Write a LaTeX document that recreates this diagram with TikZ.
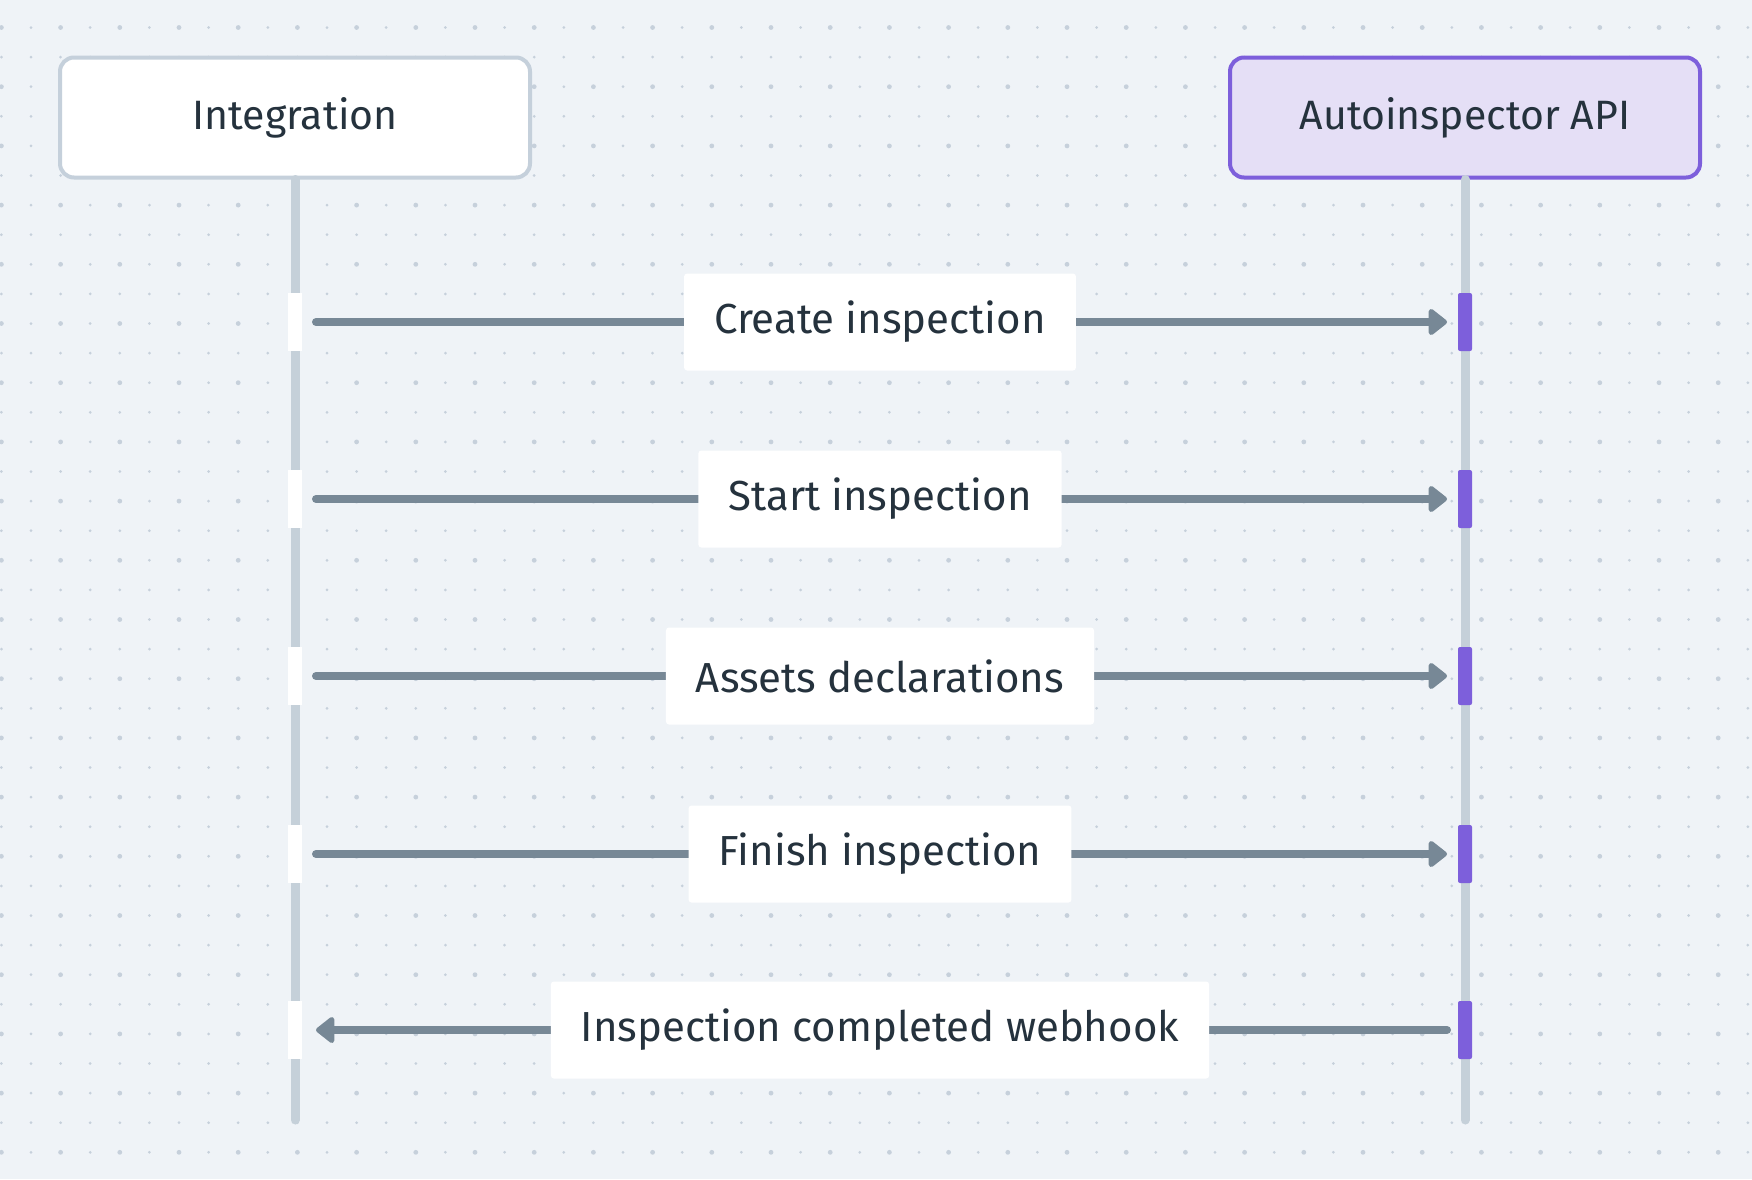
\documentclass[tikz,border=0pt]{standalone}
\usepackage{fontspec}
\setmainfont{Fira Sans}
\usetikzlibrary{arrows.meta}
\definecolor{bg}{HTML}{EFF3F7}
\definecolor{dotc}{HTML}{C6D0DB}
\definecolor{life}{HTML}{C5D0D9}
\definecolor{arr}{HTML}{778896}
\definecolor{txt}{HTML}{25323D}
\definecolor{purp}{HTML}{7D5FDB}
\definecolor{lpurp}{HTML}{E5DFF6}
\definecolor{gbord}{HTML}{C5D0DB}
\begin{document}
\begin{tikzpicture}[x=1pt,y=-1pt,
  actor/.style={rounded corners=14pt,line width=4pt,minimum width=470pt,minimum height=120pt,font=\fontsize{41}{47}\selectfont,text=txt},
  lbl/.style={fill=white,rounded corners=3pt,minimum height=97pt,inner xsep=30pt,font=\fontsize{42}{48}\selectfont,text=txt},
  msg/.style={draw=arr,line width=8pt,line cap=round},
  act/.style={fill=purp,rounded corners=2pt},
  gap/.style={fill=white}]
\fill[bg] (0,0) rectangle (1752,1179);
\useasboundingbox (0,0) rectangle (1752,1179);
\foreach \i in {0,...,59}{\foreach \j in {0,...,39}{
  \pgfmathsetmacro{\r}{(mod(\i,2)==0 && mod(\j,2)==0)?2.4:1.5}
  \fill[dotc] (\i*29.6+1.4,\j*29.6+27.5) circle (\r pt);}}
\node[actor,draw=gbord,fill=white] (int) at (295,117.5) {Integration};
\node[actor,draw=purp,fill=lpurp] (api) at (1465,117.5) {Autoinspector API};
\coordinate (intEnd) at (295,1120);
\coordinate (apiEnd) at (1465,1120);
\draw[life,line width=9pt,line cap=round] (int.south) -- (intEnd);
\draw[life,line width=9pt,line cap=round] (api.south) -- (apiEnd);
\foreach \n/\y in {a/322,b/499,c/676,d/854,e/1030}{
  \fill[gap] (288,\y-29) rectangle (302,\y+29);
  \fill[act] (1458,\y-29) rectangle (1472,\y+29);
  \coordinate (L\n) at (316,\y);
  \coordinate (R\n) at (1447,\y);
}
\foreach \n/\t/\y in {a/Create inspection/322,b/Start inspection/499,c/Assets declarations/676,d/Finish inspection/854}{
  \draw[msg,-{Triangle[length=20pt,width=30pt,round]}] (L\n) -- (R\n);
  \node[lbl] (m\n) at (880,\y) {\t};
}
\draw[msg,{Triangle[length=20pt,width=30pt,round]}-] (Le) -- (Re);
\node[lbl] (me) at (880,1030) {Inspection completed webhook};
\end{tikzpicture}
\end{document}
